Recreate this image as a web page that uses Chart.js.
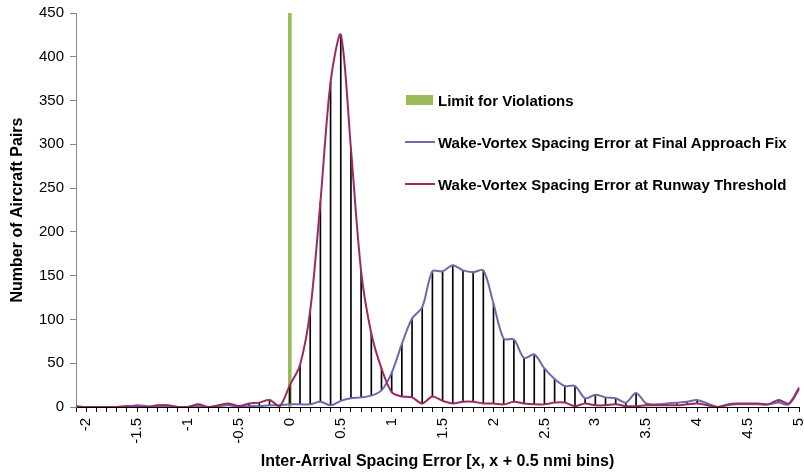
<!DOCTYPE html>
<html>
<head>
<meta charset="utf-8">
<script src="https://cdn.jsdelivr.net/npm/chart.js@4/dist/chart.umd.min.js"></script>
<style>
  html, body { margin: 0; padding: 0; background: #fff; }
  #wrap { position: relative; width: 804px; height: 473px; }
  #legend { position: absolute; left: 0; top: 0; width: 804px; height: 473px; pointer-events: none;
    font-family: "Liberation Sans", Arial, sans-serif; font-weight: bold; font-size: 15px; color: #000; }
  .item { position: absolute; left: 405px; height: 16px; display: flex; align-items: center; white-space: nowrap; }
  .mark { width: 30px; margin-right: 3px; }
  .box { height: 10px; width: 27px; margin-left: 1px; margin-right: 5px; }
  .ln { height: 2px; }
</style>
</head>
<body>
<div id="wrap">
  <canvas id="c" width="804" height="473"></canvas>
  <div id="legend"></div>
</div>
<script>
// Categories: bin start (nmi)
const categories = [-2.1,-2.0,-1.9,-1.8,-1.7,-1.6,-1.5,-1.4,-1.3,-1.2,-1.1,-1.0,-0.9,-0.8,-0.7,-0.6,-0.5,-0.4,-0.3,-0.2,-0.1,
  0.0,0.1,0.2,0.3,0.4,0.5,0.6,0.7,0.8,0.9,1.0,1.1,1.2,1.3,1.4,1.5,1.6,1.7,1.8,1.9,2.0,2.1,2.2,2.3,2.4,2.5,2.6,2.7,2.8,2.9,
  3.0,3.1,3.2,3.3,3.4,3.5,3.6,3.7,3.8,3.9,4.0,4.1,4.2,4.3,4.4,4.5,4.6,4.7,4.8,4.9,5.0];

// Wake-Vortex Spacing Error at Final Approach Fix
const finalApproachFix = [0,0,0,0,0,0,2,1,0,1,0,0,1,0,1,2,0,1,1,2,2,
  3,3,3,6,2,7,10,11,13,19,39,72,101,114,155,155,162,156,154,156,118,78,77,56,60,44,32,24,24,10,
  14,11,10,5,16,4,3,4,5,6,8,4,0,2,3,3,3,3,5,3,20];

// Wake-Vortex Spacing Error at Runway Threshold
const runwayThreshold = [1,0,0,0,0,1,0,0,2,2,0,0,3,0,2,4,1,4,5,8,1,
  25,48,110,234,371,425,295,155,84,44,17,12,11,4,12,7,4,6,6,4,4,3,6,4,3,3,5,5,1,4,
  2,2,3,1,1,2,2,2,2,3,4,2,0,3,4,4,4,3,8,4,22];

// Limit for violations (at 0 nmi)
const limitCategory = 0.0;
const limitValue = 450;

const yTicks = [0,50,100,150,200,250,300,350,400,450];
const tickLabels = ['-2','-1.5','-1','-0.5','0','0.5','1','1.5','2','2.5','3','3.5','4','4.5','5'];

const labels = categories.map(v => String(Math.round(v * 10) / 10));
const hiLo = categories.map((_, i) => [Math.min(finalApproachFix[i], runwayThreshold[i]), Math.max(finalApproachFix[i], runwayThreshold[i])]);
const limitData = categories.map(v => Math.abs(v - limitCategory) < 1e-9 ? limitValue : null);

const BLUE = '#6B6BA8', RED = '#9C2A62', GREEN = '#9BBB59';
const FONT = '"Liberation Sans", Arial, sans-serif';

new Chart(document.getElementById('c'), {
  type: 'line',
  data: {
    labels,
    datasets: [
      { type: 'line', label: 'Wake-Vortex Spacing Error at Runway Threshold', data: runwayThreshold,
        borderColor: RED, backgroundColor: RED, borderWidth: 2, pointRadius: 0, tension: 0.3, order: 1 },
      { type: 'line', label: 'Wake-Vortex Spacing Error at Final Approach Fix', data: finalApproachFix,
        borderColor: BLUE, backgroundColor: BLUE, borderWidth: 2, pointRadius: 0, tension: 0.3, order: 2 },
      { type: 'bar', label: 'hilo', data: hiLo, backgroundColor: '#000', barThickness: 1,
        grouped: false, order: 3 },
      { type: 'bar', label: 'Limit for Violations', data: limitData, backgroundColor: GREEN, barThickness: 3,
        grouped: false, order: 4 }
    ]
  },
  options: {
    responsive: false,
    animation: false,
    layout: { autoPadding: false, padding: { top: 13, right: 5, left: 0, bottom: 0 } },
    plugins: { legend: { display: false }, tooltip: { enabled: false } },
    scales: {
      x: {
        type: 'category',
        offset: false,
        grid: { display: true, drawOnChartArea: false, offset: false, tickLength: 5, color: '#000' },
        border: { display: true, color: '#000', width: 1 },
        ticks: {
          autoSkip: false, maxRotation: 90, minRotation: 90, padding: 6, color: '#000',
          font: { family: FONT, size: 15 },
          callback: function(val, idx) {
            const l = labels[idx];
            return tickLabels.includes(l) ? l : '';
          }
        },
        title: { display: true, text: 'Inter-Arrival Spacing Error [x, x + 0.5 nmi bins)', color: '#000',
          font: { family: FONT, size: 16, weight: 'bold' }, padding: { top: 4, bottom: 2 } },
        afterFit: s => { s.height = 66; s.paddingLeft = 0; s.paddingRight = 0; }
      },
      y: {
        min: 0, max: 450,
        afterBuildTicks: s => { s.ticks = yTicks.map(v => ({ value: v })); },
        grid: { display: true, drawOnChartArea: false, tickLength: 6, color: '#868686' },
        border: { display: true, color: '#868686', width: 1 },
        ticks: { padding: 6, color: '#000', font: { family: FONT, size: 15 } },
        title: { display: true, text: 'Number of Aircraft Pairs', color: '#000',
          font: { family: FONT, size: 16, weight: 'bold' }, padding: { top: 8, bottom: 4 } },
        afterFit: s => { s.width = 76; s.paddingTop = 0; s.paddingBottom = 0; }
      }
    }
  }
});

// Legend (HTML, inside plot area)
const legendItems = [
  { text: 'Limit for Violations', color: GREEN, kind: 'box', y: 100 },
  { text: 'Wake-Vortex Spacing Error at Final Approach Fix', color: BLUE, kind: 'line', y: 142 },
  { text: 'Wake-Vortex Spacing Error at Runway Threshold', color: RED, kind: 'line', y: 184 }
];
const lg = document.getElementById('legend');
legendItems.forEach(it => {
  const d = document.createElement('div');
  d.className = 'item';
  d.style.top = (it.y - 8) + 'px';
  const m = document.createElement('span');
  m.className = it.kind === 'box' ? 'box' : 'mark ln';
  m.style.background = it.color;
  m.style.display = 'inline-block';
  d.appendChild(m);
  const t = document.createElement('span');
  t.textContent = it.text;
  d.appendChild(t);
  lg.appendChild(d);
});
</script>
</body>
</html>
